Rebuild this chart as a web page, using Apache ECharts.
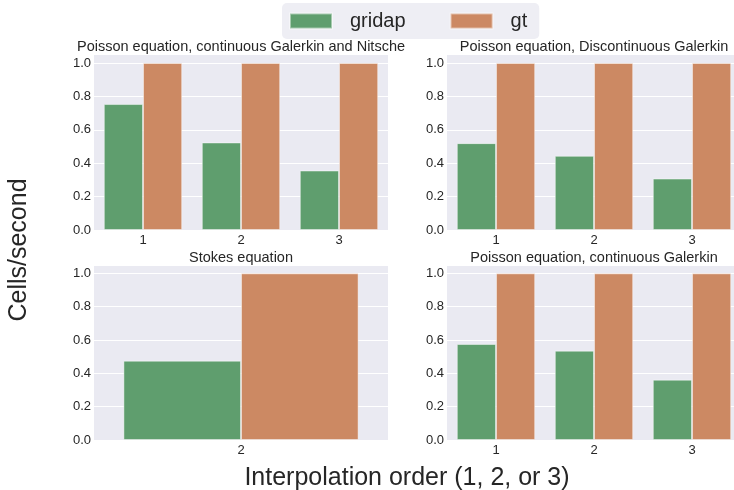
<!DOCTYPE html>
<html>
<head>
<meta charset="utf-8">
<script src="https://cdn.jsdelivr.net/npm/echarts@6/dist/echarts.min.js"></script>
<style>html,body{margin:0;padding:0;background:#fff;}#c{width:734px;height:490px;}</style>
</head>
<body>
<div id="c"></div>
<script>
// ---- data ----
var orders = ['1', '2', '3'];
var stokesOrders = ['2'];
var panelTitles = [
  'Poisson equation, continuous Galerkin and Nitsche',
  'Poisson equation, Discontinuous Galerkin',
  'Stokes equation',
  'Poisson equation, continuous Galerkin'
];
var cgNitscheGridap = [0.754, 0.524, 0.356];
var cgNitscheGt = [1.0, 1.0, 1.0];
var dgGridap = [0.520, 0.444, 0.308];
var dgGt = [1.0, 1.0, 1.0];
var stokesGridap = [0.476];
var stokesGt = [1.0];
var cgGridap = [0.576, 0.536, 0.362];
var cgGt = [1.0, 1.0, 1.0];
var yTicks = [0, 0.2, 0.4, 0.6, 0.8, 1.0];

var GREEN = '#5f9e6e', ORANGE = '#cc8963', TXT = '#262626', BG = '#eaeaf2';
var FONT = '"Liberation Sans", Arial, sans-serif';

var grids = [
  {left: 94, top: 54.6, width: 294, height: 175.4},
  {left: 447, top: 54.6, width: 294, height: 175.4},
  {left: 94, top: 265, width: 294, height: 175},
  {left: 447, top: 265, width: 294, height: 175}
].map(function (g) {
  return Object.assign({show: true, backgroundColor: BG, borderWidth: 0, containLabel: false, outerBoundsMode: 'none'}, g);
});

var cats = [orders, orders, stokesOrders, orders];
var xAxes = cats.map(function (c, i) {
  return {
    type: 'category', gridIndex: i, data: c,
    axisLine: {show: false}, axisTick: {show: false},
    axisLabel: {color: TXT, fontSize: 13, fontFamily: FONT, margin: 4},
    splitLine: {show: false}
  };
});
var yAxes = cats.map(function (c, i) {
  return {
    type: 'value', gridIndex: i, min: 0, max: 1.05, interval: 0.2,
    axisLine: {show: false}, axisTick: {show: false},
    axisLabel: {
      color: TXT, fontSize: 13, fontFamily: FONT, margin: 3,
      formatter: function (v) {
        for (var k = 0; k < yTicks.length; k++) {
          if (Math.abs(v - yTicks[k]) < 1e-6) return yTicks[k].toFixed(1);
        }
        return '';
      }
    },
    splitLine: {show: true, lineStyle: {color: '#ffffff', width: 1}}
  };
});

var gridapData = [cgNitscheGridap, dgGridap, stokesGridap, cgGridap];
var gtData = [cgNitscheGt, dgGt, stokesGt, cgGt];
var series = [];
for (var i = 0; i < 4; i++) {
  series.push({
    name: 'gridap', type: 'bar', xAxisIndex: i, yAxisIndex: i,
    data: gridapData[i], barGap: '0%', barCategoryGap: '20%',
    itemStyle: {color: GREEN, borderColor: 'rgba(255,255,255,0.45)', borderWidth: 1}
  });
  series.push({
    name: 'gt', type: 'bar', xAxisIndex: i, yAxisIndex: i,
    data: gtData[i], barGap: '0%', barCategoryGap: '20%',
    itemStyle: {color: ORANGE, borderColor: 'rgba(255,255,255,0.45)', borderWidth: 1}
  });
}

var titleCenters = [[241, 47], [594, 47], [241, 258], [594, 258]];
var graphics = panelTitles.map(function (t, i) {
  return {
    type: 'text', x: titleCenters[i][0], y: titleCenters[i][1],
    style: {text: t, fill: TXT, fontSize: 14.5, fontFamily: FONT, textAlign: 'center', textVerticalAlign: 'middle'}
  };
});
graphics.push({
  type: 'text', x: 19, y: 250, rotation: Math.PI / 2,
  style: {text: 'Cells/second', fill: TXT, fontSize: 25, fontFamily: FONT, textAlign: 'center', textVerticalAlign: 'middle'}
});
graphics.push({
  type: 'text', x: 407, y: 478,
  style: {text: 'Interpolation order (1, 2, or 3)', fill: TXT, fontSize: 25, fontFamily: FONT, textAlign: 'center', textVerticalAlign: 'middle'}
});

var chart = echarts.init(document.getElementById('c'), null, {renderer: 'canvas'});
chart.setOption({
  backgroundColor: '#ffffff',
  animation: false,
  textStyle: {fontFamily: FONT},
  legend: {
    data: ['gridap', 'gt'], left: 282, top: 3, icon: 'rect',
    itemWidth: 42, itemHeight: 15, itemGap: 44,
    backgroundColor: '#eeeef4', borderRadius: 5, padding: [8, 12, 8, 7],
    textStyle: {color: TXT, fontSize: 20, fontFamily: FONT, padding: [0, 0, 0, 13]}
  },
  grid: grids,
  xAxis: xAxes,
  yAxis: yAxes,
  series: series,
  graphic: graphics
});
</script>
</body>
</html>
